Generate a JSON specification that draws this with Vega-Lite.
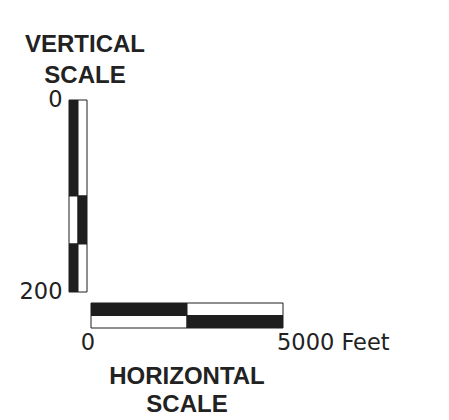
{
  "$schema": "https://vega.github.io/schema/vega-lite/v6.json",
  "width": 449,
  "height": 420,
  "autosize": "none",
  "padding": 0,
  "background": "white",
  "config": {"view": {"stroke": null}, "text": {"font": "Liberation Sans", "fill": "#222222"}},
  "datasets": {
    "vbar": [
      {"side": "left", "from": 0, "to": 100, "shade": "black"},
      {"side": "left", "from": 100, "to": 150, "shade": "white"},
      {"side": "left", "from": 150, "to": 200, "shade": "black"},
      {"side": "right", "from": 0, "to": 100, "shade": "white"},
      {"side": "right", "from": 100, "to": 150, "shade": "black"},
      {"side": "right", "from": 150, "to": 200, "shade": "white"}
    ],
    "vlabels": [
      {"side": "left", "depth": 0, "label": "0"},
      {"side": "left", "depth": 200, "label": "200"}
    ],
    "vtitle": [
      {"side": "right", "depth": 0, "label": ["VERTICAL", "SCALE"]}
    ],
    "hbar": [
      {"row": "top", "from": 0, "to": 2500, "shade": "black"},
      {"row": "top", "from": 2500, "to": 5000, "shade": "white"},
      {"row": "bottom", "from": 0, "to": 2500, "shade": "white"},
      {"row": "bottom", "from": 2500, "to": 5000, "shade": "black"}
    ],
    "hlabels": [
      {"row": "bottom", "dist": 0, "label": "0"}
    ],
    "hlabels2": [
      {"row": "bottom", "dist": 5000, "label": "5000 Feet"}
    ],
    "htitle": [
      {"row": "bottom", "dist": 2500, "label": ["HORIZONTAL", "SCALE"]}
    ]
  },
  "layer": [
    {
      "layer": [
        {
          "data": {"name": "vbar"},
          "mark": {"type": "rect", "stroke": "#1e1e1e", "strokeWidth": 1},
          "encoding": {
            "x": {"field": "side", "type": "nominal", "scale": {"domain": ["left", "right"], "range": [69, 87], "paddingInner": 0, "paddingOuter": 0}, "axis": null},
            "y": {"field": "from", "type": "quantitative", "scale": {"domain": [-104.17, 333.33], "reverse": true, "zero": false, "nice": false}, "axis": null},
            "y2": {"field": "to"},
            "fill": {"field": "shade", "type": "nominal", "scale": {"domain": ["black", "white"], "range": ["#1e1e1e", "#ffffff"]}, "legend": null}
          }
        },
        {
          "data": {"name": "vlabels"},
          "mark": {"type": "text", "align": "right", "baseline": "middle", "dx": -11, "fontSize": 22.5, "font": "DejaVu Sans"},
          "encoding": {
            "x": {"field": "side", "type": "nominal", "axis": null},
            "y": {"field": "depth", "type": "quantitative", "axis": null},
            "text": {"field": "label"}
          }
        },
        {
          "data": {"name": "vtitle"},
          "mark": {"type": "text", "align": "center", "baseline": "alphabetic", "dx": 2.5, "dy": -48, "fontSize": 24, "fontWeight": "bold", "lineHeight": 31},
          "encoding": {
            "x": {"field": "side", "type": "nominal", "axis": null},
            "y": {"field": "depth", "type": "quantitative", "axis": null},
            "text": {"field": "label"}
          }
        }
      ]
    },
    {
      "layer": [
        {
          "data": {"name": "hbar"},
          "mark": {"type": "rect", "stroke": "#1e1e1e", "strokeWidth": 1},
          "encoding": {
            "y": {"field": "row", "type": "nominal", "scale": {"domain": ["top", "bottom"], "range": [303, 328], "paddingInner": 0, "paddingOuter": 0}, "axis": null},
            "x": {"field": "from", "type": "quantitative", "scale": {"domain": [-2369.8, 9322.9], "zero": false, "nice": false}, "axis": null},
            "x2": {"field": "to"},
            "fill": {"field": "shade", "type": "nominal", "legend": null}
          }
        },
        {
          "data": {"name": "hlabels"},
          "mark": {"type": "text", "align": "center", "baseline": "alphabetic", "dx": -3, "dy": 28, "fontSize": 22.5, "font": "DejaVu Sans"},
          "encoding": {
            "y": {"field": "row", "type": "nominal", "axis": null},
            "x": {"field": "dist", "type": "quantitative", "axis": null},
            "text": {"field": "label"}
          }
        },
        {
          "data": {"name": "hlabels2"},
          "mark": {"type": "text", "align": "left", "baseline": "alphabetic", "dx": -6, "dy": 28, "fontSize": 22.5, "font": "DejaVu Sans"},
          "encoding": {
            "y": {"field": "row", "type": "nominal", "axis": null},
            "x": {"field": "dist", "type": "quantitative", "axis": null},
            "text": {"field": "label"}
          }
        },
        {
          "data": {"name": "htitle"},
          "mark": {"type": "text", "align": "center", "baseline": "alphabetic", "dy": 62, "fontSize": 24, "fontWeight": "bold", "lineHeight": 28},
          "encoding": {
            "y": {"field": "row", "type": "nominal", "axis": null},
            "x": {"field": "dist", "type": "quantitative", "axis": null},
            "text": {"field": "label"}
          }
        }
      ]
    }
  ],
  "resolve": {"scale": {"x": "independent", "y": "independent"}}
}
